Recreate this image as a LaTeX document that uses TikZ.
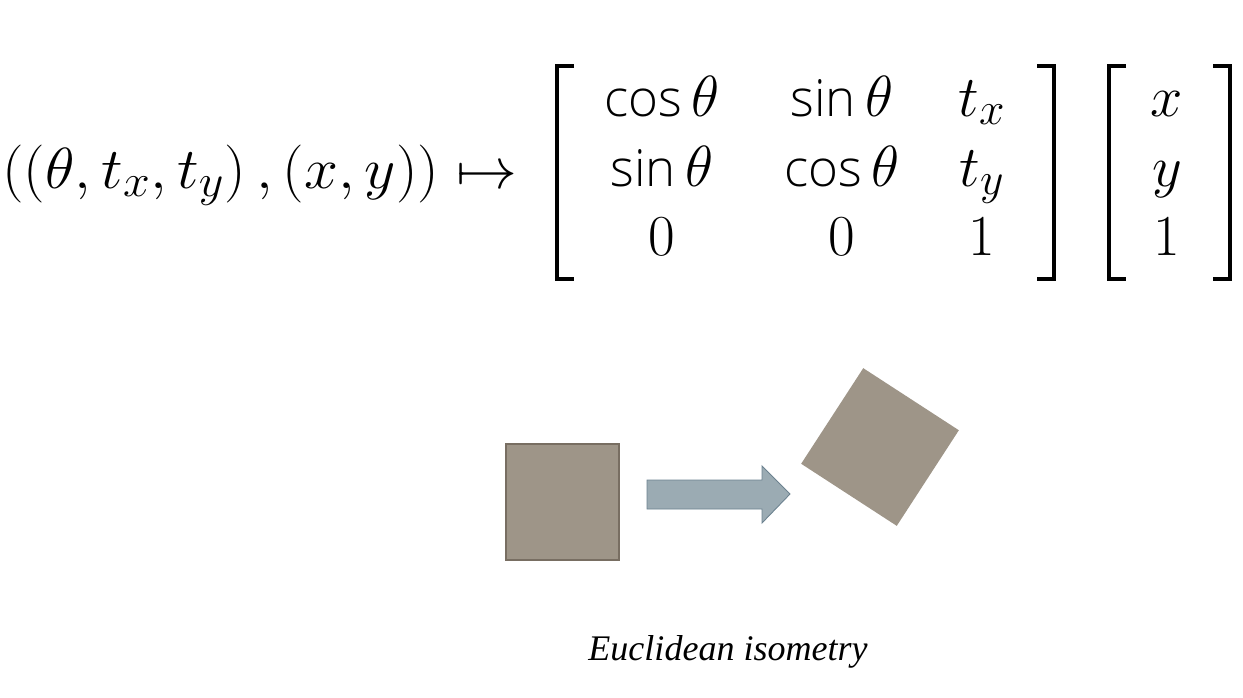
\documentclass[tikz,border=0pt]{standalone}
\usepackage{fix-cm}
\usepackage{amsmath}
\usepackage{fontspec}
\IfFontExistsTF{Open Sans Light}
  {\newfontfamily\opfont{Open Sans Light}[Scale=0.88]}
  {\newfontfamily\opfont{Carlito}}
\newfontfamily\capfont{Liberation Serif}
\DeclareMathSizes{33}{33}{26}{20}

\definecolor{tile}{RGB}{158,149,136}
\definecolor{tileline}{RGB}{120,110,98}
\definecolor{arrowfill}{RGB}{155,171,179}
\definecolor{arrowline}{RGB}{108,130,144}

\tikzset{
  entry/.style={anchor=base,inner sep=0pt,font=\fontsize{33}{40}\selectfont},
  brack/.style={line width=2.8pt,line join=miter}
}

\begin{document}
\begin{tikzpicture}[x=0.02cm,y=-0.02cm]
                \useasboundingbox (0,0) rectangle (1243,697);

                % ===== 左边：参数与点 =====
                \node[anchor=base west,inner sep=0pt,font=\fontsize{33}{40}\selectfont]
                (pair) at (2,188) {\scalebox{1.05}[1]{$((\theta,t_x,t_y)\,,(x,y))\mapsto$}};

                % ===== 矩阵 =====
                \node[entry] (m11) at (662,116) {{\opfont cos}\,$\theta$};
                \node[entry] (m12) at (842,116) {{\opfont sin}\,$\theta$};
                \node[entry] (m13) at (982,116) {$t_x$};
                \node[entry] (m21) at (662,186) {{\opfont sin}\,$\theta$};
                \node[entry] (m22) at (842,186) {{\opfont cos}\,$\theta$};
                \node[entry] (m23) at (982,186) {$t_y$};
                \node[entry] (m31) at (662,255) {$0$};
                \node[entry] (m32) at (842,255) {$0$};
                \node[entry] (m33) at (982,255) {$1$};

                \draw[brack] (1037,66) -- (1054,66) -- (1054,279) -- (1037,279);
                \draw[brack] (574,66) -- (557,66) -- (557,279) -- (574,279);

                % ===== 向量 =====
                \node[entry] (v1) at (1167,116) {$x$};
                \node[entry] (v2) at (1167,186) {$y$};
                \node[entry] (v3) at (1167,255) {$1$};

                \draw[brack] (1126,66) -- (1109,66) -- (1109,279) -- (1126,279);
                \draw[brack] (1213,66) -- (1230,66) -- (1230,279) -- (1213,279);

                % ===== 正方形与箭头 =====
                \filldraw[fill=tile,draw=tileline,line width=0.6pt]
                (506,444) rectangle (619,560);

                \filldraw[fill=arrowfill,draw=arrowline,line width=0.5pt]
                (647,480) -- (762,480) -- (762,466) -- (790,494)
                -- (762,523) -- (762,509) -- (647,509) -- cycle;

                \fill[tile,rotate around={-33:(880,447)}]
                (823,390) rectangle (937,504);

                % ===== 标题 =====
                \node[anchor=base,inner sep=0pt,
                font=\fontsize{20.5}{24}\capfont\itshape]
                (caption) at (728,660) {Euclidean isometry};

\end{tikzpicture}
\end{document}
